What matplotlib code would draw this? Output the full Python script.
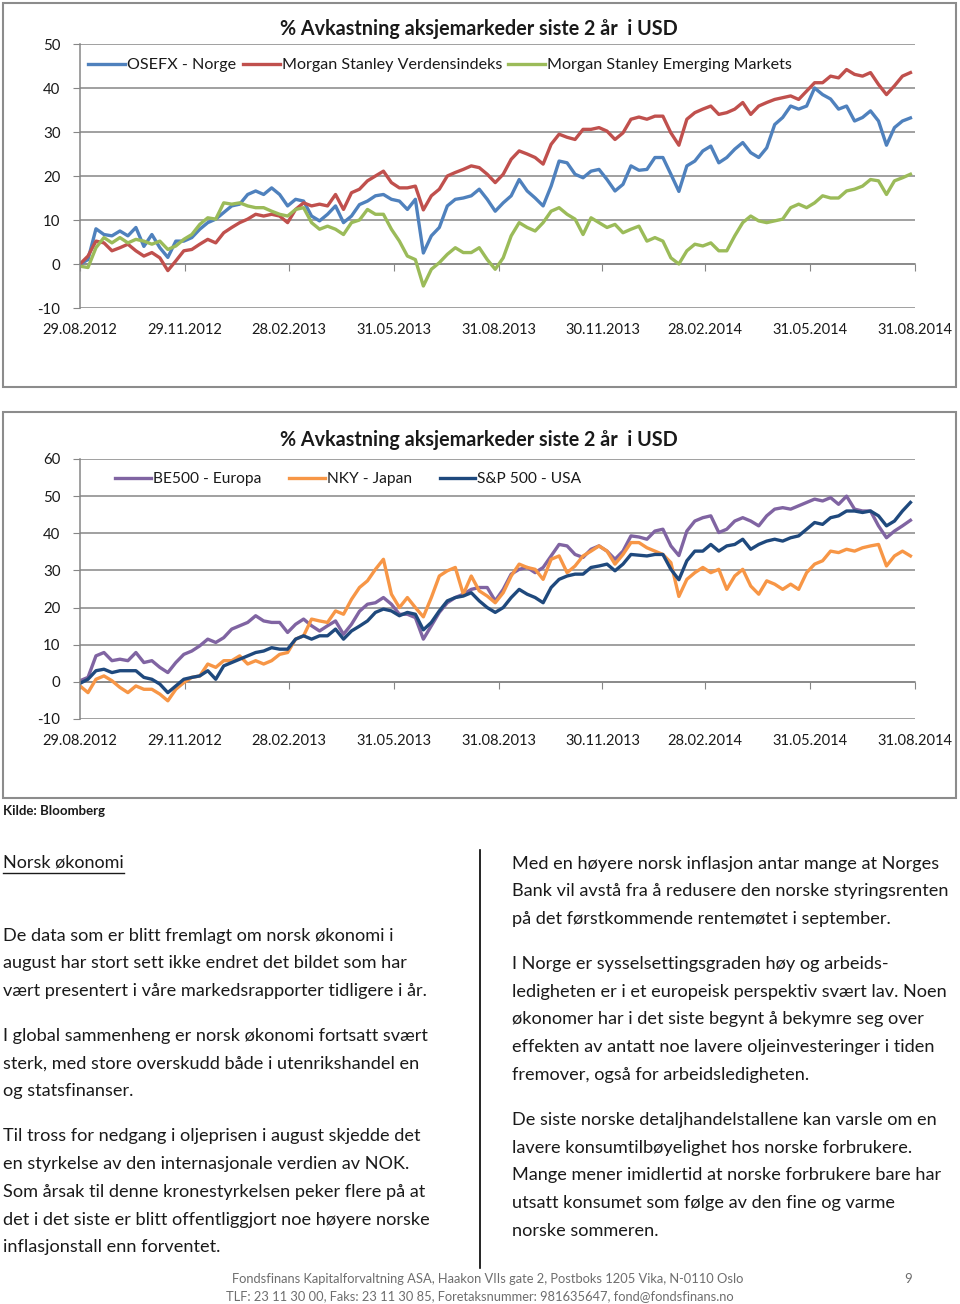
import matplotlib
matplotlib.use('Agg')
import matplotlib.pyplot as plt
import matplotlib.dates as mdates
from matplotlib.patches import Rectangle
from matplotlib.lines import Line2D
import pandas as pd

plt.rcParams['font.family'] = ['Lato', 'DejaVu Sans']
plt.rcParams['axes.unicode_minus'] = False

W, H = 960, 1304

# weekly samples
dates = mdates.date2num(pd.date_range('2012-08-29', periods=105, freq='7D'))
tick_labels = ['29.08.2012', '29.11.2012', '28.02.2013', '31.05.2013', '31.08.2013',
               '30.11.2013', '28.02.2014', '31.05.2014', '31.08.2014']
tick_pos = mdates.date2num(pd.to_datetime(tick_labels, format='%d.%m.%Y'))

title = '% Avkastning aksjemarkeder siste 2 år  i USD'

osefx = [0, 1, 8, 6.7, 6.4, 7.5, 6.4, 8.3, 4, 6.7,
         3.7, 1.5, 5.2, 5.2, 6, 7.9, 9.4, 10.2, 11.7, 13.2,
         13.6, 15.8, 16.6, 15.8, 17.3, 15.8, 13.2, 14.7, 14.3, 10.9,
         9.8, 11.3, 13.2, 9.4, 10.9, 13.5, 14.3, 15.5, 15.8, 14.7,
         14.3, 12.4, 14.7, 2.5, 6.4, 8.3, 13.2, 14.7, 15, 15.5,
         17, 14.7, 12, 13.9, 15.5, 19.2, 16.6, 15, 13.2, 17.7,
         23.4, 23, 20.4, 19.6, 21.1, 21.5, 19.2, 16.6, 18.1, 22.3,
         21.3, 21.5, 24.2, 24.2, 20.4, 16.5, 22.3, 23.4, 25.7, 26.8,
         23, 24.2, 26.1, 27.6, 25.3, 24.2, 26.4, 31.7, 33.3, 35.9,
         35.2, 35.9, 40, 38.5, 37.5, 35.2, 35.9, 32.5, 33.3, 34.8,
         32.5, 27, 31, 32.5, 33.2]
msci_world = [0, 1.8, 5.2, 4.8, 3, 3.7, 4.5, 3, 1.8, 2.6,
              1.4, -1.5, 0.7, 3, 3.3, 4.5, 5.6, 4.8, 7.1, 8.3,
              9.4, 10.2, 11.3, 10.9, 11.3, 10.9, 9.4, 12.4, 13.9, 13.2,
              13.6, 13.2, 15.8, 12.4, 16.2, 17, 18.9, 20, 21.1, 18.5,
              17.3, 17.3, 17.7, 12.3, 15.5, 17, 20, 20.8, 21.5, 22.3,
              21.9, 20.4, 18.5, 20.4, 23.8, 25.7, 25, 24.2, 22.7, 27.2,
              29.5, 28.8, 28.3, 30.6, 30.6, 31, 30.2, 28.3, 29.8, 32.9,
              33.4, 32.9, 33.6, 33.6, 29.8, 27, 32.9, 34.4, 35.2, 35.9,
              34, 34.4, 35.2, 36.7, 34, 35.9, 36.7, 37.4, 37.8, 38.2,
              37.4, 39.3, 41.2, 41.2, 42.7, 42.3, 44.2, 43.1, 42.7, 43.5,
              40.8, 38.5, 40.5, 42.7, 43.5]
msci_em = [-0.5, -0.8, 3.7, 6, 4.8, 6, 4.8, 5.6, 5.2, 4.5,
           5.2, 3.3, 4.1, 5.6, 6.7, 9, 10.5, 10.2, 13.9, 13.6,
           13.9, 13.2, 12.8, 12.8, 12, 11.3, 10.9, 12.4, 12.8, 9.4,
           7.9, 8.6, 7.9, 6.7, 9.4, 10, 12.4, 11.3, 11.3, 7.9,
           5.2, 1.8, 1, -5, -1.2, 0.3, 2.2, 3.7, 2.6, 2.6,
           3.7, 1, -1.2, 1.4, 6.4, 9.4, 8.3, 7.5, 9.4, 12,
           12.8, 11.3, 10.2, 6.7, 10.5, 9.4, 8.3, 9, 7.1, 7.9,
           8.6, 5.2, 6, 5.2, 1.4, 0, 3, 4.5, 4.1, 4.8,
           3, 3, 6.4, 9.4, 10.9, 9.8, 9.4, 9.8, 10.2, 12.8,
           13.6, 12.8, 13.9, 15.5, 15, 15, 16.6, 17, 17.7, 19.2,
           18.9, 15.8, 18.9, 19.6, 20.4]

be500 = [0.3, 1.2, 7, 7.9, 5.7, 6.1, 5.7, 7.9, 5.2, 5.7,
         3.9, 2.5, 5.2, 7.4, 8.3, 9.7, 11.5, 10.6, 11.9, 14.2,
         15.1, 16, 17.8, 16.4, 16, 16, 13.3, 15.5, 16.9, 15.1,
         13.7, 15.1, 16.4, 12.8, 15.5, 19, 20.9, 21.3, 22.7, 20.9,
         18.2, 18.2, 17.3, 11.5, 15.1, 18.7, 21.3, 22.7, 23.6, 24.9,
         25.4, 25.4, 21.8, 24.9, 29, 30.3, 30.8, 29.4, 30.8, 33.9,
         37, 36.6, 34.3, 33.5, 35.7, 36.6, 35.2, 33, 35.2, 39.3,
         39, 38.4, 40.6, 41.1, 36.6, 34, 40.6, 43.3, 44.2, 44.7,
         40.2, 41.1, 43.3, 44.2, 43.3, 42, 44.7, 46.5, 46.9, 46.5,
         47.4, 48.3, 49.2, 48.7, 49.6, 47.8, 50, 46.5, 46, 46,
         42, 38.8, 40.6, 42, 43.5]
nky = [-1.1, -2.9, 0.7, 1.6, 0.3, -1.5, -2.9, -1.1, -2, -2,
       -3.3, -5.1, -2, -0.2, 1.2, 1.6, 4.8, 3.9, 5.7, 5.7,
       7, 4.8, 5.7, 4.8, 5.7, 7.4, 7.9, 11.5, 12.4, 16.9,
       16.4, 16, 19.1, 18.2, 22.2, 25.4, 27.2, 30.3, 33, 23.6,
       20, 22.7, 20, 17.5, 22.7, 28.5, 29.9, 30.8, 23.6, 28.5,
       24.5, 23.1, 21.3, 24, 28.5, 31.7, 30.8, 30.3, 27.6, 33,
       33.9, 29.4, 31.2, 33.9, 35.2, 36.6, 35.2, 31.7, 34.3, 37.5,
       37.5, 36.1, 35.2, 34.3, 32.1, 23, 27.6, 29.4, 30.8, 29.4,
       30.3, 24.9, 28.5, 30.3, 25.8, 23.6, 27.2, 26.3, 24.9, 26.3,
       24.9, 29.4, 31.7, 32.6, 35.2, 34.8, 35.7, 35.2, 36.1, 36.6,
       37, 31.2, 33.9, 35.2, 33.9]
spx = [-0.4, 0.7, 3, 3.4, 2.5, 3, 3, 3, 1.2, 0.7,
       -0.6, -2.9, -1.1, 0.7, 1.2, 1.6, 3, 0.7, 4.3, 5.2,
       6.1, 7, 7.9, 8.3, 9.2, 8.8, 8.8, 11.5, 12.4, 11.5,
       12.4, 12.4, 14.2, 11.5, 13.7, 15, 16.4, 18.7, 19.6, 19.1,
       17.8, 18.7, 18.2, 14, 16, 19.1, 21.8, 22.7, 23.1, 24,
       21.8, 20, 18.7, 20, 22.7, 24.9, 23.6, 22.7, 21.3, 25.4,
       27.6, 28.5, 29, 29, 30.8, 31.2, 31.7, 29.9, 31.7, 34.3,
       34.1, 33.9, 34.3, 34.3, 30.3, 27.5, 32.6, 35.2, 35.2, 37,
       35.2, 36.6, 37, 38.4, 35.7, 37, 37.9, 38.4, 37.9, 38.8,
       39.3, 41.1, 42.9, 42.4, 44.2, 44.7, 46, 46, 45.6, 46,
       44.7, 42, 43.3, 46, 48.3]

left_paras = [
    ['De data som er blitt fremlagt om norsk økonomi i',
     'august har stort sett ikke endret det bildet som har',
     'vært presentert i våre markedsrapporter tidligere i år.'],
    ['I global sammenheng er norsk økonomi fortsatt svært',
     'sterk, med store overskudd både i utenrikshandel en',
     'og statsfinanser.'],
    ['Til tross for nedgang i oljeprisen i august skjedde det',
     'en styrkelse av den internasjonale verdien av NOK.',
     'Som årsak til denne kronestyrkelsen peker flere på at',
     'det i det siste er blitt offentliggjort noe høyere norske',
     'inflasjonstall enn forventet.'],
]
right_paras = [
    ['Med en høyere norsk inflasjon antar mange at Norges',
     'Bank vil avstå fra å redusere den norske styringsrenten',
     'på det førstkommende rentemøtet i september.'],
    ['I Norge er sysselsettingsgraden høy og arbeids-',
     'ledigheten er i et europeisk perspektiv svært lav. Noen',
     'økonomer har i det siste begynt å bekymre seg over',
     'effekten av antatt noe lavere oljeinvesteringer i tiden',
     'fremover, også for arbeidsledigheten.'],
    ['De siste norske detaljhandelstallene kan varsle om en',
     'lavere konsumtilbøyelighet hos norske forbrukere.',
     'Mange mener imidlertid at norske forbrukere bare har',
     'utsatt konsumet som følge av den fine og varme',
     'norske sommeren.'],
]
footer = ['Fondsfinans Kapitalforvaltning ASA, Haakon VIIs gate 2, Postboks 1205 Vika, N-0110 Oslo',
          'TLF: 23 11 30 00, Faks: 23 11 30 85, Foretaksnummer: 981635647, fond@fondsfinans.no']

GRID = '#868686'
TXT = '#1a1a1a'


def fx(px):
    return px / W


def fy(py):
    return 1 - py / H


fig = plt.figure(figsize=(W / 100, H / 100), dpi=100)


def panel(frame, top, bottom, ylo, yhi, title_y, series, leg_x, leg_y, colsp, legfs):
    fig.add_artist(Rectangle((fx(frame[0]), fy(frame[3])), fx(frame[2]) - fx(frame[0]),
                             fy(frame[1]) - fy(frame[3]), transform=fig.transFigure,
                             fill=False, ec='#8c8c8c', lw=1.5))
    ax = fig.add_axes([fx(80), fy(bottom), fx(915) - fx(80), fy(top) - fy(bottom)])
    for name, vals, color in series:
        ax.plot(dates, vals, color=color, lw=2.4, label=name, solid_joinstyle='round')
    ax.set_xlim(tick_pos[0], tick_pos[-1])
    ax.set_ylim(ylo, yhi)
    ax.set_yticks(range(ylo, yhi + 1, 10))
    ax.grid(axis='y', color=GRID, lw=1.1)
    ax.set_axisbelow(True)
    for s in ['top', 'right', 'bottom']:
        ax.spines[s].set_visible(False)
    ax.spines['left'].set_color(GRID)
    ax.spines['left'].set_linewidth(1.1)
    ax.tick_params(axis='y', length=5, color=GRID, pad=9, labelsize=10.8, labelcolor=TXT)
    ax.set_xticks(tick_pos)
    ax.set_xticklabels(tick_labels)
    ax.tick_params(axis='x', length=0, pad=10.5, labelsize=10.5, labelcolor=TXT)
    sec = ax.secondary_xaxis(-ylo / (yhi - ylo))
    sec.set_xticks(tick_pos)
    sec.tick_params(axis='x', length=5, color=GRID, labelbottom=False, labeltop=False)
    sec.spines['bottom'].set_color(GRID)
    sec.spines['bottom'].set_linewidth(1.1)
    fig.text(fx(479), fy(title_y), title, ha='center', va='center',
             fontweight='bold', fontsize=14.2, color=TXT)
    ax.legend(loc='center left', bbox_to_anchor=(fx(leg_x), fy(leg_y)),
              bbox_transform=fig.transFigure, ncol=3, frameon=False,
              handlelength=2.3, handletextpad=0.12, columnspacing=colsp,
              borderpad=0, borderaxespad=0, fontsize=legfs, labelcolor=TXT)
    return ax


panel((3, 3, 956, 387), 44, 308, -10, 50, 29,
      [('OSEFX - Norge', osefx, '#4F81BD'),
       ('Morgan Stanley Verdensindeks', msci_world, '#C0504D'),
       ('Morgan Stanley Emerging Markets', msci_em, '#9BBB59')],
      88, 65, 0.4, 11.6)
panel((3, 412, 956, 798), 459, 719, -10, 60, 440,
      [('BE500 - Europa', be500, '#8064A2'),
       ('NKY - Japan', nky, '#F79646'),
       ('S&P 500 - USA', spx, '#1F497D')],
      115, 479, 1.8, 11.2)

fig.text(fx(3), fy(811), 'Kilde: Bloomberg', ha='left', va='center',
         fontweight='bold', fontsize=9.5, color=TXT)

head = fig.text(fx(3), fy(863), 'Norsk økonomi', ha='left', va='center',
                fontsize=13, color=TXT)
fig.canvas.draw()
bb = head.get_window_extent(fig.canvas.get_renderer())
fig.add_artist(Line2D([bb.x0 / W, bb.x1 / W], [fy(873)] * 2,
                      transform=fig.transFigure, color=TXT, lw=1))

LS = 27.8
y = 935.5
for para in left_paras:
    for line in para:
        fig.text(fx(3), fy(y), line, ha='left', va='center', fontsize=13.1, color=TXT)
        y += LS
    y += 17
y = 863.5
for para in right_paras:
    for line in para:
        fig.text(fx(512), fy(y), line, ha='left', va='center', fontsize=13.1, color=TXT)
        y += LS
    y += 17

fig.add_artist(Line2D([fx(480), fx(480)], [fy(850), fy(1268)],
                      transform=fig.transFigure, color='#000000', lw=1.2))

fig.text(fx(488), fy(1279), footer[0], ha='center', va='center', fontsize=9.3, color='#6d6d6d')
fig.text(fx(480), fy(1296), footer[1], ha='center', va='center', fontsize=9.3, color='#6d6d6d')
fig.text(fx(908), fy(1279), '9', ha='center', va='center', fontsize=9.5, color='#6d6d6d')

fig.savefig('out.png', dpi=100, facecolor='white')
